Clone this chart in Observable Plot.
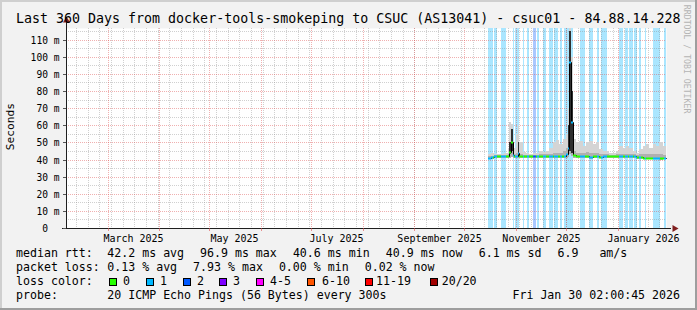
<!DOCTYPE html>
<html><head><meta charset="utf-8">
<script src="https://cdn.jsdelivr.net/npm/d3@7"></script>
<script src="https://cdn.jsdelivr.net/npm/@observablehq/plot@0.6"></script>
<style>
body{margin:0;background:#fff;}
#wrap{position:relative;width:697px;height:310px;background:#f2f2f2;overflow:hidden;font-family:"DejaVu Sans Mono",monospace;color:#000;}
#wrap svg{position:absolute;left:0;top:0;overflow:visible;}
.t{position:absolute;white-space:pre;line-height:1;}
.sw{position:absolute;width:8px;height:8px;box-sizing:border-box;border:1px solid #000;}
.b{position:absolute;}
</style></head><body><div id="wrap"></div>
<script>
// ---------------- data ----------------
const title = "Last 360 Days from docker-tools-smokeping to CSUC (AS13041) - csuc01 - 84.88.14.228";
const rangeStart = "2025-02-04T02:00:45Z";
const rangeEnd = "2026-01-30T02:00:45Z";

const dates = ["2025-10-15","2025-10-17","2025-10-19","2025-10-21","2025-10-23","2025-10-25","2025-10-27","2025-10-28","2025-10-29","2025-10-30",
 "2025-10-31","2025-11-01","2025-11-02","2025-11-03","2025-11-05","2025-11-07","2025-11-09","2025-11-11","2025-11-13","2025-11-15",
 "2025-11-17","2025-11-19","2025-11-21","2025-11-23","2025-11-25","2025-11-27","2025-11-29","2025-12-01","2025-12-02","2025-12-03",
 "2025-12-04","2025-12-05","2025-12-07","2025-12-09","2025-12-11","2025-12-13","2025-12-15","2025-12-17","2025-12-19","2025-12-21",
 "2025-12-23","2025-12-25","2025-12-27","2025-12-29","2025-12-31","2026-01-02","2026-01-04","2026-01-06","2026-01-08","2026-01-10",
 "2026-01-12","2026-01-14","2026-01-16","2026-01-18","2026-01-20","2026-01-22","2026-01-24","2026-01-26","2026-01-28","2026-01-30"];
const median = [41.0,41.2,41.8,42.0,42.0,42.0,42.2,44.5,50.5,42.5,
 42.2,42.0,44.0,42.3,42.0,42.0,42.1,42.0,42.0,42.0,
 42.1,42.0,42.2,42.0,42.1,42.0,42.2,43.0,47.0,96.9,
 61.7,42.5,42.0,42.0,41.8,42.0,41.6,42.0,42.0,41.7,
 42.0,42.0,42.0,42.0,42.0,42.0,42.0,42.3,42.0,41.8,
 41.5,41.2,41.0,41.0,41.0,41.0,40.9,40.8,40.9,40.9];
const smokeLo = [40.3,40.4,40.6,40.8,40.8,40.8,40.8,41.0,41.5,40.8,
 40.8,40.8,41.0,40.8,40.8,40.8,40.8,40.8,40.8,40.8,
 40.8,40.8,40.8,40.8,40.8,40.8,40.8,41.0,41.5,43.0,
 42.0,40.8,40.8,40.8,40.6,40.8,40.5,40.8,40.8,40.6,
 40.8,40.8,40.8,40.8,40.8,40.8,40.8,40.8,40.8,40.6,
 40.5,40.3,40.2,40.2,40.2,40.2,40.1,40.0,40.1,40.1];
const smokeMid = [41.8,42.2,42.4,42.6,42.6,42.6,43.0,48.0,52.0,44.0,
 43.0,44.0,48.0,43.5,42.8,42.6,42.6,42.6,42.6,43.0,
 43.0,43.0,43.5,44.0,44.0,44.0,45.0,47.0,55.0,100.0,
 75.0,45.0,44.0,44.0,44.0,44.5,44.0,44.0,44.0,43.0,
 43.0,43.0,42.8,42.8,43.0,43.5,43.5,43.5,43.0,43.0,
 42.5,43.0,43.0,43.5,43.0,43.0,43.0,43.0,42.8,42.8];
const smokeHi = [43.5,44.0,43.2,43.2,43.2,43.8,47.0,62.0,61.0,50.0,
 47.0,55.0,60.0,50.0,44.5,44.0,43.5,44.0,44.0,45.0,
 44.5,45.0,47.0,50.0,51.5,49.0,52.0,55.0,70.0,117.0,
 100.0,52.0,50.0,51.0,48.0,50.0,51.0,49.0,50.5,46.0,
 45.0,45.0,44.0,44.0,45.0,48.0,47.0,48.0,47.0,45.0,
 44.0,46.0,48.0,49.0,47.0,49.0,48.0,50.0,48.0,49.0];

const coreDates = ["2025-10-28","2025-10-29","2025-11-02","2025-12-02","2025-12-03","2025-12-04"];
const coreLo = [43.0,45.0,42.5,44.0,45.0,44.0];
const coreHi = [50.0,58.0,50.0,60.0,115.0,80.0];

const lossStart = ["2025-10-15T12:00Z","2025-10-19","2025-10-23","2025-10-30","2025-10-31T12:00Z","2025-11-05","2025-11-07T12:00Z","2025-11-11","2025-11-13T12:00Z","2025-11-17",
 "2025-11-21","2025-11-24","2025-11-27T12:00Z","2025-11-30","2025-12-09T12:00Z","2025-12-15","2025-12-19T12:00Z","2025-12-22","2026-01-02","2026-01-05T12:00Z",
 "2026-01-08","2026-01-11","2026-01-14","2026-01-17T12:00Z","2026-01-22","2026-01-29"];
const lossEnd = ["2025-10-18","2025-10-20T12:00Z","2025-10-26","2025-10-31","2025-11-03","2025-11-06","2025-11-09","2025-11-13","2025-11-15","2025-11-19",
 "2025-11-23","2025-11-26","2025-11-28T12:00Z","2025-12-05","2025-12-12T12:00Z","2025-12-17","2025-12-21","2025-12-25T12:00Z","2026-01-04","2026-01-07",
 "2026-01-10","2026-01-12T12:00Z","2026-01-15","2026-01-18","2026-01-26T12:00Z","2026-01-30"];
const lossLevel = [1,1,1,1,1,1,1,2,1,1, 1,1,1,1,1,1,1,1,1,1, 1,1,1,1,1,1];

const yTicks = [0,10,20,30,40,50,60,70,80,90,100,110];
const yMinor = [5,15,25,35,45,55,65,75,85,95,105,115];
const xLabelDates = ["2025-03-16","2025-05-16","2025-07-16","2025-09-16","2025-11-16","2026-01-16"];
const xLabels = ["March 2025","May 2025","July 2025","September 2025","November 2025","January 2026"];

const lossNames = ["0","1","2","3","4-5","6-10","11-19","20/20"];
const lossColors = ["#26ff00","#00b8ff","#0059ff","#7e00ff","#ff00ff","#ff5500","#ff0000","#a10000"];
const lossBg = ["none","#aae6ff","#aac8ff","#d4aaff","#ffaaff","#ffc6aa","#ffaaaa","#e0aaaa"];

const statsRtt = ["median rtt:","42.2 ms avg","96.9 ms max","40.6 ms min","40.9 ms now","6.1 ms sd","6.9   am/s"];
const statsLoss = ["packet loss:","0.13 % avg","7.93 % max","0.00 % min","0.02 % now"];
const probeText = ["probe:","20 ICMP Echo Pings (56 Bytes) every 300s"];
const stamp = "Fri Jan 30 02:00:45 2026";
const watermark = "RRDTOOL / TOBI OETIKER";
const yLabel = "Seconds";

// ---------------- build ----------------
const P = s => new Date(s.length === 10 ? s + "T00:00:00Z" : s);
const T0 = P(rangeStart), T1 = P(rangeEnd);
const YMAX = 116.8;
const DAY = 864e5;
const rows = dates.map((d,i)=>({t:P(d), m:median[i], lo:smokeLo[i], mid:smokeMid[i], hi:smokeHi[i]}));
const loss = lossStart.map((s,i)=>({s:P(s), e:P(lossEnd[i]), level:lossLevel[i]}));
const core = coreDates.map((d,i)=>({t:P(d), t2:new Date(+P(d)+DAY), lo:coreLo[i], hi:coreHi[i]}));

const tFirst = +rows[0].t, tLast = +rows[rows.length-1].t;
const cuts = Array.from(new Set([...rows.map(r=>+r.t), ...loss.flatMap(l=>[+l.s,+l.e])]))
  .filter(v=>v>=tFirst && v<=tLast).sort((a,b)=>a-b);
const bis = d3.bisector(r=>+r.t).right;
const segs = [];
for (let k=0;k<cuts.length-1;k++){
  const a=cuts[k], b=cuts[k+1];
  const r = rows[bis(rows, a)-1];
  const L = loss.find(l=>+l.s<=a && a<+l.e);
  segs.push({a:new Date(a), b:new Date(b), m:r.m, c: lossColors[L ? L.level : 0]});
}

const weeks = d3.utcMonday.range(T0, T1);
const months = d3.utcMonth.range(T0, T1);
const xLabelTs = xLabelDates.map(P);
const gridMinor = {stroke:"#8f8f8f", strokeOpacity:0.42, strokeDasharray:"1,1"};
const gridMajor = {stroke:"#de4f4f", strokeOpacity:0.45, strokeDasharray:"1,1"};
const FONT = "DejaVu Sans Mono";

const plot = Plot.plot({
  width: 697, height: 250,
  marginLeft: 66, marginRight: 31, marginTop: 28, marginBottom: 22,
  x: {type:"utc", domain:[T0,T1], round:true, axis:null},
  y: {domain:[0,YMAX], round:true, axis:null},
  style: {background:"transparent", fontFamily:FONT, fontSize:"10px", color:"#000"},
  marks: [
    Plot.frame({fill:"white", stroke:"none"}),
    Plot.rect(loss, {x1:"s", x2:"e", fill:d=>lossBg[d.level]}),
    Plot.ruleY(yMinor, gridMinor),
    Plot.ruleX(weeks, gridMinor),
    Plot.ruleY(yTicks.filter(v=>v>0), gridMajor),
    Plot.ruleX(months, gridMajor),
    Plot.areaY(rows, {x:"t", y1:"lo", y2:"hi", curve:"step-after", fill:"#d4d4d4", clip:true}),
    Plot.areaY(rows, {x:"t", y1:"lo", y2:"mid", curve:"step-after", fill:"#b0b0b0", clip:true}),
    Plot.rect(core, {x1:"t", x2:"t2", y1:"lo", y2:"hi", fill:"#303030", clip:true}),
    Plot.line(rows, {x:"t", y:"m", curve:"step-after", stroke:"#000", strokeWidth:1}),
    Plot.ruleY(segs, {x1:"a", x2:"b", y:"m", stroke:"c", strokeWidth:2}),
    // axes
    Plot.ruleX([T0], {y1:0, y2:120.5, stroke:"#1f1f1f"}),
    Plot.ruleY([0], {x1:new Date(+T0 - 2.4*DAY), x2:new Date(+T1 + 3*DAY), stroke:"#1f1f1f"}),
    Plot.dot([T0], {x:d=>d, y:121.5, symbol:"triangle", r:2.6, fill:"#801f1f", stroke:"none"}),
    Plot.dot([T1], {x:d=>new Date(+d + 4.6*DAY), y:0, symbol:"triangle", rotate:90, r:2.6, fill:"#801f1f", stroke:"none"}),
    Plot.axisY(yTicks, {tickSize:3, tickPadding:4, stroke:"#555", fill:"#000", fontSize:9.6, fontFamily:FONT,
      tickFormat:d=> d===0 ? "0\u00a0\u00a0" : d + " m"}),
    Plot.axisX(months, {tickSize:3, stroke:"#de4f4f", strokeOpacity:0.6, tickFormat:()=>""}),
    Plot.axisX(xLabelTs, {tickSize:0, tickPadding:6, fill:"#000", fontSize:10, fontFamily:FONT,
      tickFormat:d=> xLabels[xLabelTs.findIndex(v=>+v===+d)]})
  ]
});

const wrap = document.getElementById("wrap");
wrap.appendChild(plot);

function txt(s, x, base, size, opts={}){
  const el = document.createElement("div");
  el.className = "t";
  el.textContent = s;
  el.style.fontSize = size + "px";
  el.style.top = (base - 0.846*size) + "px";
  if (opts.right) { el.style.right = (697 - x) + "px"; } else { el.style.left = x + "px"; }
  if (opts.color) el.style.color = opts.color;
  wrap.appendChild(el);
  return el;
}
function rot(s, cx, cy, size, deg, color){
  const el = document.createElement("div");
  el.className = "t";
  el.textContent = s;
  el.style.fontSize = size + "px";
  el.style.width = "200px";
  el.style.textAlign = "center";
  el.style.left = (cx - 100) + "px";
  el.style.top = (cy - size/2) + "px";
  el.style.transform = `rotate(${deg}deg)`;
  el.style.transformOrigin = "50% 50%";
  if (color) el.style.color = color;
  wrap.appendChild(el);
}

txt(title, 16, 23, 13.3);
rot(yLabel, 11, 127, 11.2, -90);
rot(watermark, 687, 59, 8.2, 90, "#b4b4b4");

const LF = 11.6;
const rttX = [16,107.3,200,292.9,385.8,478.7,557.5];
statsRtt.forEach((s,i)=>txt(s, rttX[i], 258, LF));
const lossX = [16,107.3,193.1,278.9,364.7];
statsLoss.forEach((s,i)=>txt(s, lossX[i], 272, LF));
txt("loss color:", 16, 286, LF);
const swX = [108.5,145.5,182.5,219,256,307,365,430];
const swTX = [123,160,197,233,270,322,376,441.7];
lossNames.forEach((n,i)=>{
  const sw = document.createElement("div");
  sw.className = "sw";
  sw.style.left = Math.round(swX[i]) + "px";
  sw.style.top = "278px";
  sw.style.background = lossColors[i];
  wrap.appendChild(sw);
  txt(n, swTX[i], 286, LF);
});
txt(probeText[0], 16, 300, LF);
txt(probeText[1], 107.3, 300, LF);
txt(stamp, 680, 300, LF, {right:true});

// frame shading
function box(l,t,w,h,c){const b=document.createElement("div");b.className="b";Object.assign(b.style,{left:l+"px",top:t+"px",width:w+"px",height:h+"px",background:c});wrap.appendChild(b);}
box(0,0,697,2,"#cfcfcf");
box(0,0,2,310,"#cfcfcf");
box(0,308,697,2,"#9e9e9e");
box(695,0,2,310,"#9e9e9e");
</script></body></html>
